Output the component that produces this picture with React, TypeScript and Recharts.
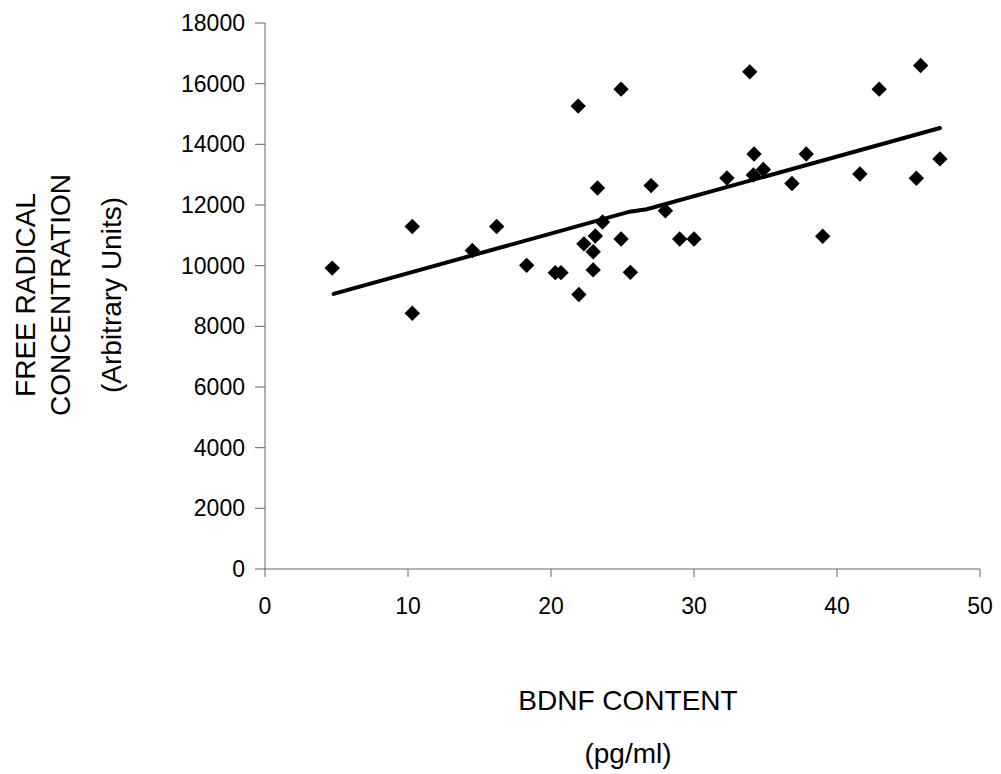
import { ScatterChart, Scatter, XAxis, YAxis, Label } from "recharts";

const FONT = '"Liberation Sans", Arial, sans-serif';

// BDNF content (pg/ml)
const bdnf = [
  4.7, 10.3, 10.3, 14.5, 16.2, 18.3, 20.3, 20.7, 21.9, 21.95, 22.3, 22.95,
  23.1, 22.95, 23.25, 23.6, 24.9, 24.9, 25.55, 27.0, 28.0, 29.0, 30.0, 32.3,
  33.9, 34.2, 34.15, 34.85, 36.85, 37.85, 39.0, 41.6, 42.95, 45.55, 45.85, 47.2,
];

// free radical concentration (arbitrary units)
const freeRadical = [
  9920, 11290, 8430, 10500, 11290, 10010, 9770, 9770, 15260, 9050, 10720, 10460,
  10980, 9860, 12560, 11440, 15820, 10880, 9780, 12640, 11810, 10880, 10880, 12890,
  16390, 13680, 12990, 13170, 12710, 13680, 10970, 13020, 15820, 12880, 16600, 13520,
];

// regression line as drawn
const trendX = [4.8, 25.5, 26.7, 47.2];
const trendY = [9070, 11780, 11860, 14540];

const xTicks = [0, 10, 20, 30, 40, 50];
const yTicks = [0, 2000, 4000, 6000, 8000, 10000, 12000, 14000, 16000, 18000];

const points = bdnf.map((x, i) => ({ x, y: freeRadical[i] }));
const trend = trendX.map((x, i) => ({ x, y: trendY[i] }));

const Diamond = (props: any) => {
  const { cx, cy } = props;
  const r = 7.7;
  return (
    <polygon
      points={`${cx},${cy - r} ${cx + r},${cy} ${cx},${cy + r} ${cx - r},${cy}`}
      fill="#000"
    />
  );
};

const titleStyle = { fontFamily: FONT, fontSize: 28, fill: "#000" };

export default function App() {
  return (
    <div style={{ position: "absolute", left: 0, top: 0, background: "#fff" }}>
      <ScatterChart width={1001} height={774} margin={{ top: 23, right: 21, bottom: 0, left: 0 }}>
        <XAxis
          type="number"
          dataKey="x"
          domain={[0, 50]}
          ticks={xTicks}
          height={205}
          tickSize={8}
          tickMargin={21}
          stroke="#666"
          tick={{ fontSize: 23, fill: "#000", fontFamily: FONT }}
        >
          <Label
            content={() => (
              <g>
                <text x={628} y={710} textAnchor="middle" style={titleStyle}>
                  BDNF CONTENT
                </text>
                <text x={628} y={763} textAnchor="middle" style={titleStyle}>
                  (pg/ml)
                </text>
              </g>
            )}
          />
        </XAxis>
        <YAxis
          type="number"
          dataKey="y"
          domain={[0, 18000]}
          ticks={yTicks}
          width={265}
          tickSize={10}
          tickMargin={10}
          stroke="#666"
          tick={{ fontSize: 23, fill: "#000", fontFamily: FONT }}
        >
          <Label
            content={() => (
              <g>
                <text x={35} y={295} textAnchor="middle" transform="rotate(-90 35 295)" style={titleStyle}>
                  FREE RADICAL
                </text>
                <text x={70} y={295} textAnchor="middle" transform="rotate(-90 70 295)" style={titleStyle}>
                  CONCENTRATION
                </text>
                <text x={121} y={295} textAnchor="middle" transform="rotate(-90 121 295)" style={titleStyle}>
                  (Arbitrary Units)
                </text>
              </g>
            )}
          />
        </YAxis>
        <Scatter
          data={trend}
          line={{ stroke: "#000", strokeWidth: 4, strokeLinecap: "round" }}
          shape={() => <g />}
          isAnimationActive={false}
        />
        <Scatter data={points} shape={Diamond} isAnimationActive={false} />
      </ScatterChart>
    </div>
  );
}
